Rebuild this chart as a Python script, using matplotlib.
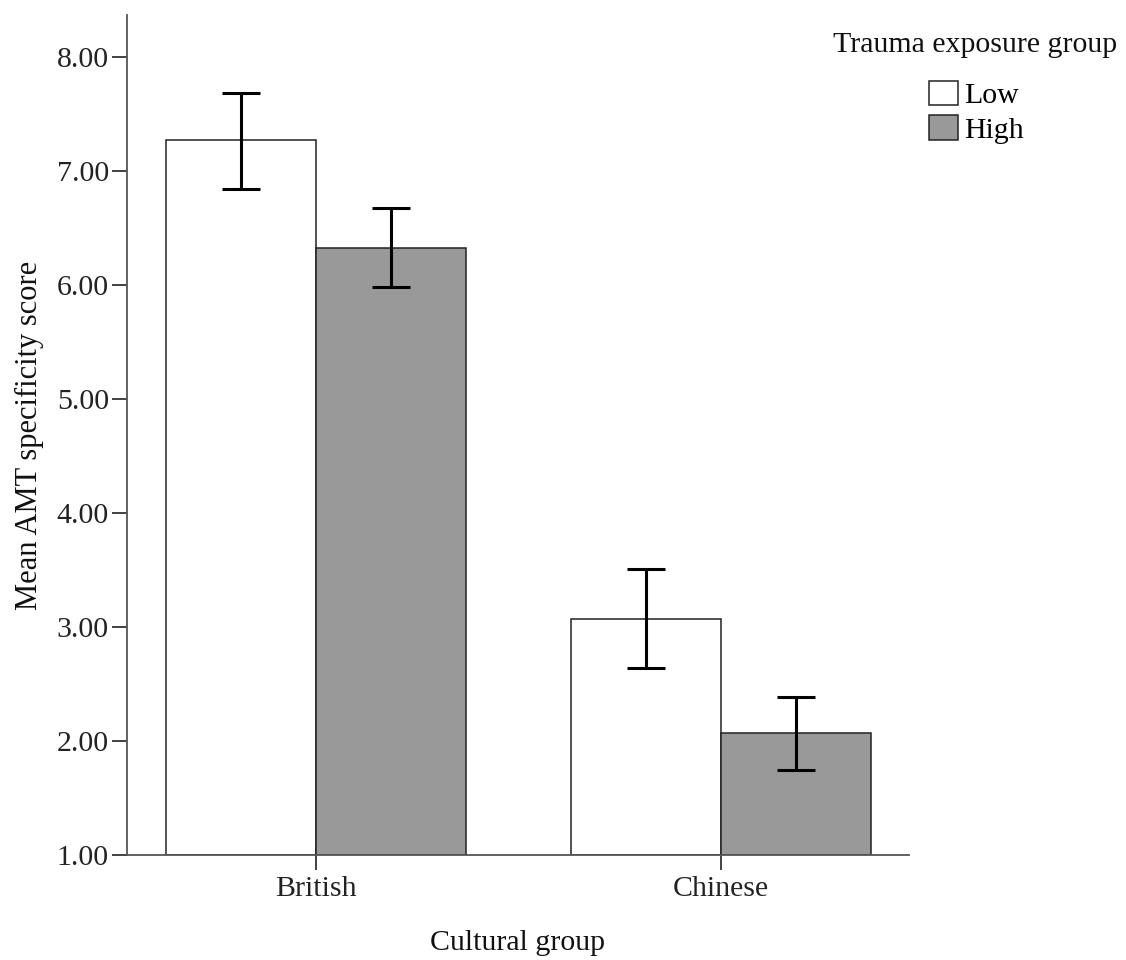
import matplotlib
matplotlib.use("Agg")
import matplotlib.pyplot as plt
import numpy as np

categories = ["British", "Chinese"]
groups = ["Low", "High"]
means = {"Low": [7.27, 3.07], "High": [6.33, 2.07]}
err_upper = {"Low": [7.69, 3.51], "High": [6.68, 2.39]}
err_lower = {"Low": [6.84, 2.64], "High": [5.98, 1.75]}
colors = {"Low": "#ffffff", "High": "#999999"}
yticks = [1, 2, 3, 4, 5, 6, 7, 8]

plt.rcParams['font.family'] = ['Liberation Serif', 'DejaVu Serif']
FS = 21.5

fig = plt.figure(figsize=(11.26, 9.6), dpi=100)
ax = fig.add_axes([127/1126, 1-855/960, (909-127)/1126, (855-15)/960])

x = np.arange(len(categories))
w = 0.37
for i, g in enumerate(groups):
    pos = x + (i - 0.5) * w
    m = np.array(means[g])
    lo = m - np.array(err_lower[g])
    hi = np.array(err_upper[g]) - m
    ax.bar(pos, m - 1, bottom=1, width=w, color=colors[g], edgecolor="#222222",
           linewidth=1.1, label=g, zorder=2)
    ax.errorbar(pos, m, yerr=[lo, hi], fmt="none", ecolor="black", elinewidth=2.2,
                capsize=13.5, capthick=2.2, zorder=3)

ax.set_xlim(-0.467, 1.464)
ax.set_ylim(1, 8.37)
ax.set_yticks(yticks)
ax.set_yticklabels([f"{v:.2f}" for v in yticks])
ax.set_xticks(x)
ax.set_xticklabels(categories)

for s in ["top", "right"]:
    ax.spines[s].set_visible(False)
for s in ["left", "bottom"]:
    ax.spines[s].set_color("#555555")
    ax.spines[s].set_linewidth(1.3)
ax.tick_params(axis="both", direction="out", length=11, width=1.3, color="#333333",
               labelsize=FS, labelcolor="#222222", pad=2)
ax.tick_params(axis="x", pad=4)

ax.set_ylabel("Mean AMT specificity score", fontsize=FS + 0.5, color="#111111", labelpad=9)
ax.set_xlabel("Cultural group", fontsize=FS, color="#111111", labelpad=20)

fig.text(975/1126, 1-45/960, "Trauma exposure group", ha="center", va="center",
         fontsize=FS, color="#111111")
leg = fig.legend(loc="upper center", bbox_to_anchor=(976/1126, 1-66/960),
                 frameon=False, fontsize=FS, handlelength=0.97, handleheight=0.87,
                 handletextpad=0.2, labelspacing=0.2, borderpad=0)

fig.savefig("out.png", dpi=100, facecolor="white")
